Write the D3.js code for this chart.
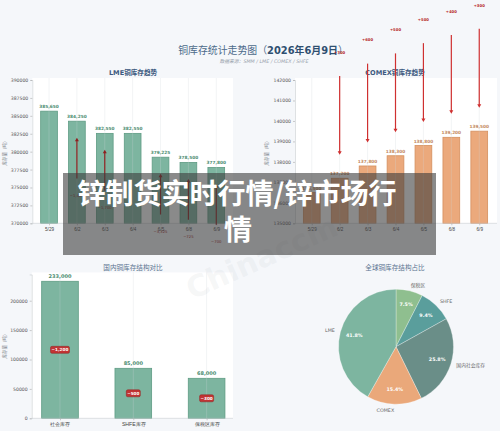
<!DOCTYPE html>
<html><head><meta charset="utf-8">
<script src="https://cdn.jsdelivr.net/npm/d3@7"></script>
<style>
html,body{margin:0;padding:0;background:#f5f7fa;}
svg{display:block;font-family:"DejaVu Sans","Noto Sans CJK SC",sans-serif;}
</style></head>
<body><svg id="c" width="500" height="431"></svg>
<script>
// ---------- data ----------
const dates = ["5/29","6/2","6/3","6/4","6/5","6/8","6/9"];
const lmeStock = [385650,384250,382550,382550,379225,378500,377800];
const lmeChange = [null,-1400,-1700,0,-3325,-725,-700];
const comexStock = [136500,137200,137800,138300,138800,139200,139500];
const comexChange = [null,700,600,500,500,400,300];
const domesticCats = ["社会库存","SHFE库存","保税区库存"];
const domesticStock = [233000,85000,68000];
const domesticChange = [-1200,-500,-300];
const pieLabels = ["保税区","SHFE","国内社会库存","COMEX","LME"];
const pieValues = [68000,85000,233000,139500,377800];
const lmeTicks = [370000,372500,375000,377500,380000,382500,385000,387500,390000];
const comexTicks = [135000,136000,137000,138000,139000,140000,141000,142000];
const domTicks = [0,50000,100000,150000,200000];

// ---------- style ----------
const green = "#7db5a0", greenEdge = "#5f9c84", greenText = "#4b8c70";
const orange = "#eba97c", orangeEdge = "#d5905f", orangeText = "#c38a5e";
const pieColors = ["#8fbf8f","#5a9e9c","#6a8e88","#eaa87a","#7db5a0"];
const fmt = d3.format(",");
const svg = d3.select("#c");

// title
const t = svg.append("text").attr("x",263).attr("y",54).attr("text-anchor","middle")
  .attr("font-size",9.9).attr("fill","#4d6b8a").attr("font-family","'Noto Sans CJK SC','DejaVu Sans',sans-serif");
t.append("tspan").text("铜库存统计走势图（");
t.append("tspan").attr("font-weight","bold").attr("fill","#2f4f70").attr("font-family","'DejaVu Sans','Noto Sans CJK SC'").text("2026年6月9日");
t.append("tspan").text("）");
svg.append("text").attr("x",264).attr("y",63).attr("text-anchor","middle").attr("font-size",4.8)
  .attr("font-style","italic").attr("fill","#9aa3ad").text("数据来源：SMM / LME / COMEX / SHFE");

function yLabel(x,y){
  svg.append("text").attr("transform",`translate(${x},${y}) rotate(-90)`).attr("text-anchor","middle")
    .attr("font-size",4.5).attr("fill","#7a8088").text("库存量（吨）");
}
function panelTitle(x,y,txt,bold){
  svg.append("text").attr("x",x).attr("y",y).attr("text-anchor","middle").attr("font-size",6.6)
    .attr("font-weight",bold?"bold":"normal").attr("fill",bold?"#3d5a80":"#5a7390").text(txt);
}

function barPanel(opt){
  const {x,y,x0,x1,y0,y1,ticks,cats,vals,color,edge,labelColor,labelSize,barW,catSize} = opt;
  const g = svg.append("g");
  g.append("rect").attr("x",x0).attr("y",y1-2).attr("width",x1-x0).attr("height",y0-y1+2).attr("fill","#fff");
  g.selectAll(".bar").data(vals).join("rect")
    .attr("x",(d,i)=>x(i-barW/2)).attr("width",x(barW)-x(0))
    .attr("y",d=>y(d)).attr("height",d=>y0-y(d))
    .attr("fill",color).attr("stroke",edge).attr("stroke-width",0.8);
  g.selectAll(".grid").data(cats).join("line")
    .attr("x1",(d,i)=>x(i)).attr("x2",(d,i)=>x(i)).attr("y1",y1-2).attr("y2",y0)
    .attr("stroke","#d0d4d8").attr("stroke-opacity",0.45).attr("stroke-width",0.6);
  const ax = d3.axisLeft(y).tickValues(ticks).tickFormat(d3.format("d")).tickSize(2).tickPadding(2);
  const ag = g.append("g").attr("transform",`translate(${x0},0)`).call(ax);
  ag.select(".domain").attr("stroke","#c8ccd0").attr("stroke-width",0.6);
  ag.selectAll(".tick line").attr("stroke","#999").attr("stroke-width",0.5);
  ag.selectAll("text").attr("font-size",4.6).attr("fill","#555").attr("font-family","'DejaVu Sans'");
  const bx = d3.axisBottom(d3.scaleOrdinal().domain(cats).range(cats.map((c,i)=>x(i))))
    .tickSize(2).tickPadding(2.5);
  const bg = g.append("g").attr("transform",`translate(0,${y0})`).call(bx);
  bg.select(".domain").remove();
  g.append("line").attr("x1",x0).attr("x2",x1).attr("y1",y0).attr("y2",y0).attr("stroke","#c8ccd0").attr("stroke-width",0.6);
  bg.selectAll(".tick line").attr("stroke","#999").attr("stroke-width",0.5);
  bg.selectAll("text").attr("font-size",catSize).attr("fill","#444");
  g.selectAll(".vl").data(vals).join("text")
    .attr("x",(d,i)=>x(i)).attr("y",d=>y(d)-3).attr("text-anchor","middle")
    .attr("font-size",labelSize).attr("font-weight","bold").attr("fill",labelColor).text(d=>fmt(d));
  return g;
}

function arrow(g,xp,yFrom,yTo,color){
  const dir = yTo>yFrom?1:-1;
  g.append("line").attr("x1",xp).attr("x2",xp).attr("y1",yFrom).attr("y2",yTo-dir*2.5)
    .attr("stroke",color).attr("stroke-width",1.2);
  g.append("path").attr("d",`M${xp-2},${yTo-dir*3.5}L${xp+2},${yTo-dir*3.5}L${xp},${yTo}Z`).attr("fill",color);
}

// ---------- LME ----------
const lx = d3.scaleLinear().domain([-0.6,6.6]).range([32.3,233]);
const ly = d3.scaleLinear().domain([370000,390000]).range([223.3,80]);
panelTitle(133,74.5,"LME铜库存趋势",true);
const lg = barPanel({x:lx,y:ly,x0:32.3,x1:233,y0:223.3,y1:80,ticks:lmeTicks,cats:dates,vals:lmeStock,
  color:green,edge:greenEdge,labelColor:greenText,labelSize:4.3,barW:0.6,catSize:4.6});
yLabel(6,152);
lmeChange.forEach((c,i)=>{
  if(c===null||c===0) return;
  const v = lmeStock[i];
  arrow(lg,lx(i),ly(v-8000),ly(v-2300),"#8e1f1f");
  lg.append("text").attr("x",lx(i)).attr("y",ly(v-10370)+1.5).attr("text-anchor","middle")
    .attr("font-size",3.8).attr("fill","#9a2020").text(fmt(c));
});

// ---------- COMEX ----------
const cx = d3.scaleLinear().domain([-0.6,6.6]).range([295,496]);
const cy = d3.scaleLinear().domain([135000,142000]).range([223.3,80]);
panelTitle(395,74.5,"COMEX铜库存趋势",true);
const cg = barPanel({x:cx,y:cy,x0:295,x1:497,y0:223.3,y1:80,ticks:comexTicks,cats:dates,vals:comexStock,
  color:orange,edge:orangeEdge,labelColor:orangeText,labelSize:4.3,barW:0.6,catSize:4.6});
yLabel(268,152);
comexChange.forEach((c,i)=>{
  if(c===null) return;
  const v = comexStock[i];
  arrow(cg,cx(i),cy(v+5000),cy(v+1150),"#cf3030");
  cg.append("text").attr("x",cx(i)).attr("y",cy(v+6150)+1.4).attr("text-anchor","middle")
    .attr("font-size",3.8).attr("font-weight","bold").attr("fill","#b52424").text("+"+fmt(c));
});

// ---------- Domestic ----------
const dx = d3.scaleLinear().domain([-0.386,2.36]).range([31.7,233]);
const dy = d3.scaleLinear().domain([0,244650]).range([418.3,274.45]);
panelTitle(133,270,"国内铜库存结构对比",false);
const dg = barPanel({x:dx,y:dy,x0:31.7,x1:233,y0:418.3,y1:274.45,ticks:domTicks,cats:domesticCats,vals:domesticStock,
  color:green,edge:greenEdge,labelColor:greenText,labelSize:5,barW:0.5,catSize:5.2});
yLabel(6,345);
domesticChange.forEach((c,i)=>{
  const v = domesticStock[i];
  const txt = fmt(c);
  const w = txt.length*2.5+4;
  dg.append("rect").attr("x",dx(i)-w/2).attr("y",dy(v/2)-3.5).attr("width",w).attr("height",7)
    .attr("rx",1.5).attr("fill","#c23434").attr("stroke","#8e2020").attr("stroke-width",0.5);
  dg.append("text").attr("x",dx(i)).attr("y",dy(v/2)+1.5).attr("text-anchor","middle")
    .attr("font-size",4.2).attr("font-weight","bold").attr("fill","#fff").text(txt);
});

// ---------- Pie ----------
panelTitle(395,270,"全球铜库存结构占比",false);
const pcx = 396, pcy = 346.7, R = 57.5;
const total = d3.sum(pieValues);
const arcs = d3.pie().sort(null)(pieValues);
const pg = svg.append("g").attr("transform",`translate(${pcx},${pcy})`);
const arcGen = d3.arc().innerRadius(0).outerRadius(R);
pg.selectAll("path").data(arcs).join("path").attr("d",arcGen)
  .attr("fill",(d,i)=>pieColors[i]).attr("stroke","#fff").attr("stroke-width",0.3);
arcs.forEach((a,i)=>{
  const m = (a.startAngle+a.endAngle)/2;
  const sx = Math.sin(m), sy = -Math.cos(m);
  pg.append("text").attr("x",sx*R*0.75).attr("y",sy*R*0.75).attr("dy","0.35em").attr("text-anchor","middle")
    .attr("font-size",4.8).attr("font-weight","bold").attr("fill","#fff")
    .text((pieValues[i]/total*100).toFixed(1)+"%");
  pg.append("text").attr("x",sx*R*1.1).attr("y",sy*R*1.1).attr("dy","0.35em")
    .attr("text-anchor",sx>=0?"start":"end")
    .attr("font-size",4.8).attr("fill","#666").text(pieLabels[i]);
});

// ---------- watermark ----------
svg.append("text").attr("transform","translate(192,300) rotate(-24)").attr("font-size",30)
  .attr("font-weight","bold").attr("fill","#c8ccd2").attr("fill-opacity",0.18).text("Chinaccm");

// ---------- overlay ----------
svg.append("rect").attr("x",63).attr("y",173).attr("width",373).attr("height",82).attr("fill","rgba(60,60,60,0.6)");
const ov = svg.append("text").attr("text-anchor","middle").attr("font-size",28).attr("font-weight","bold")
  .attr("fill","#fff").attr("font-family","'Noto Sans CJK SC',sans-serif");
ov.append("tspan").attr("x",237).attr("y",204).text("锌制货实时行情/锌市场行");
ov.append("tspan").attr("x",238).attr("y",239.5).text("情");
</script></body></html>
